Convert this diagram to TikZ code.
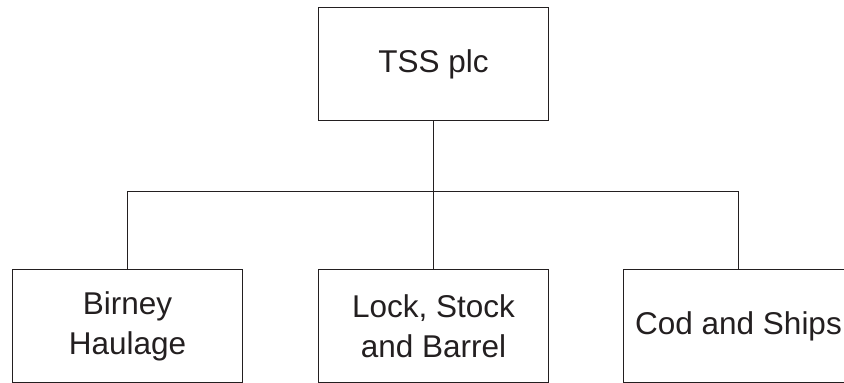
\documentclass[tikz,border=0pt]{standalone}
\usepackage{fontspec}
\setmainfont{Liberation Sans}
\definecolor{inkgray}{HTML}{231F20}
\begin{document}
\begin{tikzpicture}[x=1pt, y=1pt, line cap=rect, line join=miter]
	% kich thuoc khung hinh (theo pixel cua hinh goc)
	\def\W{844} \def\H{383}
	\useasboundingbox (0,0) rectangle (\W,\H);
	\clip (0,0) rectangle (\W,\H);
	
	\tikzset{
		unitbox/.style={draw=inkgray, line width=1pt, text=inkgray,
			minimum width=230pt, minimum height=113pt, inner sep=0pt,
			align=center, font=\fontsize{31.5}{40}\selectfont},
		link/.style={draw=inkgray, line width=1pt}
	}
	
	% cong ty me
	\node[unitbox] (tss) at (433.5,319) {TSS plc};
	
	% cac cong ty con
	\node[unitbox] (birney) at (127.5,57) {Birney\\Haulage};
	\node[unitbox] (lock) at (433.5,57) {Lock, Stock\\and Barrel};
	\node[unitbox] (cod) at (738.5,57) {Cod and Ships};
	
	% diem noi ngang
	\coordinate (bus) at (433.5,191.5);
	
	% duong noi
	\draw[link] (tss.south) -- (bus);
	\draw[link] (birney.north) |- (bus) -| (cod.north);
	\draw[link] (bus) -- (lock.north);
\end{tikzpicture}
\end{document}
